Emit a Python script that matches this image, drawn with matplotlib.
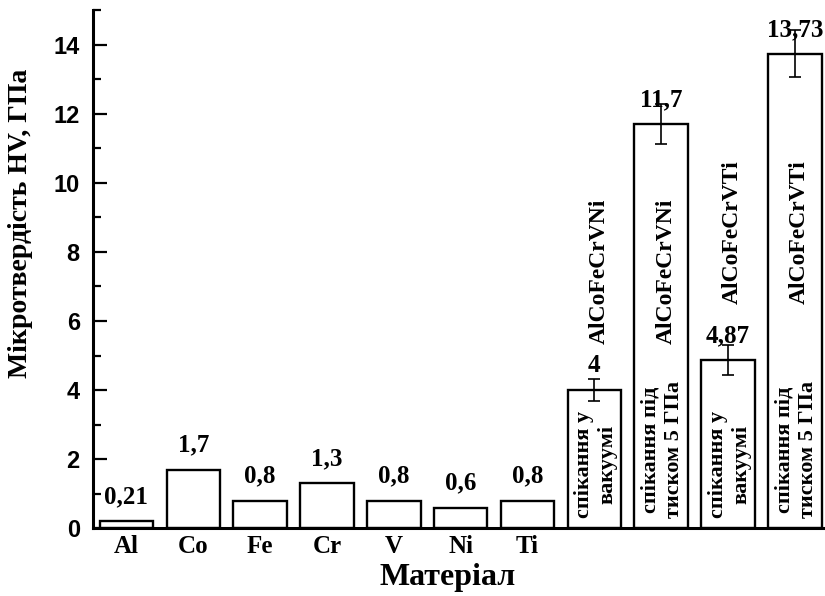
import matplotlib
matplotlib.use("Agg")
import matplotlib.pyplot as plt
from matplotlib.ticker import MultipleLocator

categories = ["Al", "Co", "Fe", "Cr", "V", "Ni", "Ti", "", "", "", ""]
values = [0.21, 1.7, 0.8, 1.3, 0.8, 0.6, 0.8, 4.0, 11.7, 4.87, 13.73]
value_labels = ["0,21", "1,7", "0,8", "1,3", "0,8", "0,6", "0,8", "4", "11,7", "4,87", "13,73"]
errors = [0, 0, 0, 0, 0, 0, 0, 0.32, 0.58, 0.43, 0.68]
alloy_names = ["AlCoFeCrVNi", "AlCoFeCrVNi", "AlCoFeCrVTi", "AlCoFeCrVTi"]
process_labels = ["спікання у\nвакуумі", "спікання під\nтиском 5 ГПа",
                  "спікання у\nвакуумі", "спікання під\nтиском 5 ГПа"]
y_label = "Мікротвердість HV, ГПа"
x_label = "Матеріал"

serif = ["Liberation Serif", "DejaVu Serif"]
sans = ["Liberation Sans", "DejaVu Sans"]

fig = plt.figure(figsize=(8.25, 5.96), dpi=100)
ax = fig.add_axes([93 / 825, 1 - 528.3 / 596, 1 - 93 / 825, (528.3 - 10) / 596])

x = list(range(len(values)))
ax.bar(x, values, width=0.8, color="white", edgecolor="black", linewidth=1.7, zorder=2)
for xi, v, e in zip(x, values, errors):
    if e > 0:
        ax.errorbar(xi, v, yerr=e, fmt="none", ecolor="black", elinewidth=1.2,
                    capsize=4.5, capthick=1.2, zorder=3)

for xi, v, lab in zip(x, values, value_labels):
    ax.annotate(lab, (xi, v), xytext=(0, 13), textcoords="offset points",
                ha="center", va="baseline", fontsize=18, fontweight="bold",
                family=serif, zorder=4)

# alloy names (rotated)
alloy_bottoms = [5.34, 5.34, 6.5, 6.5]
for i, (name, yb) in enumerate(zip(alloy_names, alloy_bottoms)):
    ax.text(7 + i + 0.07, yb, name, rotation=90, ha="center", va="bottom",
            fontsize=17, fontweight="bold", family=serif, zorder=4)

for i, lab in enumerate(process_labels):
    ax.text(7 + i + 0.02, 0.3, lab, rotation=90, ha="center", va="bottom",
            multialignment="center", linespacing=1.25,
            fontsize=16, fontweight="bold", family=serif, zorder=4)

ax.set_xlim(-0.5, 10.45)
ax.set_ylim(0, 15)
ax.set_xticks(x[:7])
ax.set_xticklabels(categories[:7], fontsize=18, fontweight="bold", family=serif)
ax.tick_params(axis="x", length=0, pad=5)
ax.yaxis.set_major_locator(MultipleLocator(2))
ax.yaxis.set_minor_locator(MultipleLocator(1))
ax.tick_params(axis="y", which="major", direction="in", length=10, width=1.6, pad=9.5)
ax.tick_params(axis="y", which="minor", direction="in", length=6, width=1.6)
for t in ax.get_yticklabels():
    t.set_fontsize(17)
    t.set_fontweight("bold")
    t.set_family(sans)

ax.spines["top"].set_visible(False)
ax.spines["right"].set_visible(False)
ax.spines["left"].set_linewidth(2.2)
ax.spines["bottom"].set_linewidth(2.2)

ax.set_ylabel(y_label, fontsize=20, fontweight="bold", family=serif)
ax.yaxis.set_label_coords(-0.082, 0.589)
ax.set_xlabel(x_label, fontsize=23, fontweight="bold", family=serif)
ax.xaxis.set_label_coords(0.484, -0.067)

fig.savefig("out.png", dpi=100)
